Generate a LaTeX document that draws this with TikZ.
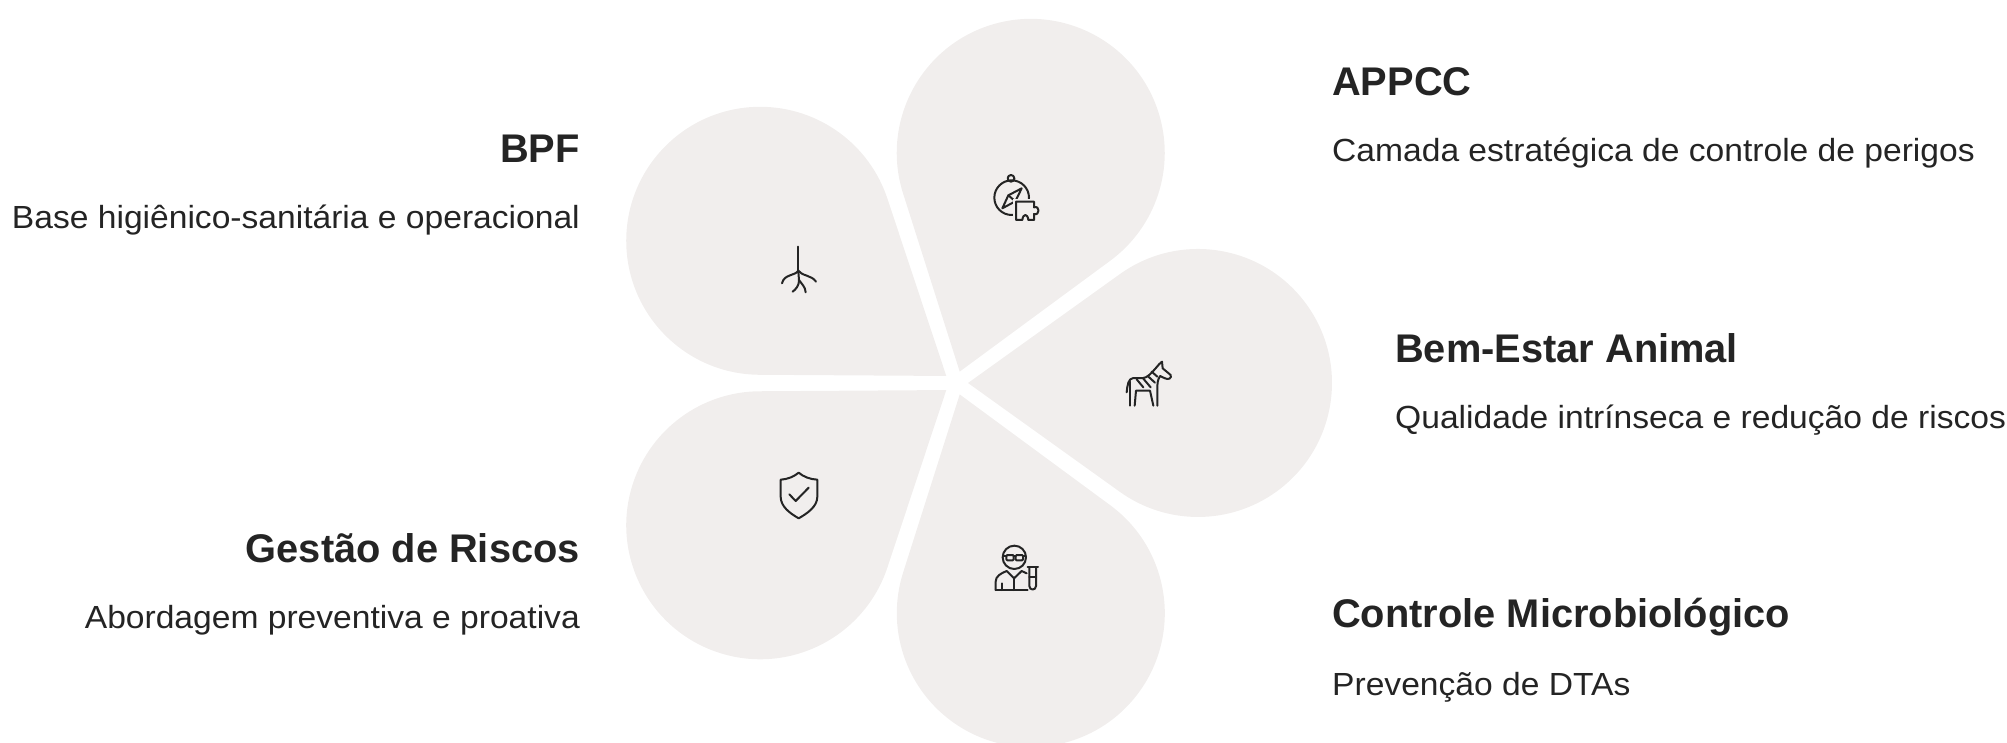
\documentclass[tikz,border=0pt]{standalone}
\usepackage{fontspec}
\setmainfont{Liberation Sans}
\newfontfamily\subfam{Liberation Sans}[FakeStretch=1.05]
\newfontfamily\headfam{Liberation Sans}[FakeStretch=0.995]
\definecolor{petalc}{HTML}{F1EEED}
\definecolor{inkc}{HTML}{242424}
\tikzset{
  headt/.style={inner sep=0pt,text=inkc,font=\headfam\fontsize{40}{46}\selectfont\bfseries},
  subt/.style={inner sep=0pt,text=inkc,font=\subfam\fontsize{32}{38}\selectfont},
  iconl/.style={draw=inkc,line width=2,line cap=round,line join=round,fill=none},
  iconscope/.style={x=1pt,y=-1pt,scale=0.3333}
}
\newcommand\petalat[1]{\begin{scope}[shift={(956,383)},rotate=#1,x=1pt,y=1pt]
  \fill[petalc] (12,0) -- (163.6,108.7) arc[start angle=125.8,end angle=-125.8,radius=134] -- cycle;
\end{scope}}
\begin{document}
\begin{tikzpicture}[x=1pt,y=-1pt]
\useasboundingbox (0,0) rectangle (2007,742);
\clip (0,0) rectangle (2007,742);
\petalat{0}\petalat{72}\petalat{144}\petalat{216}\petalat{288}
% compass
\begin{scope}[shift={(960,150)},iconscope]
 \draw[iconl] (155,143) circle[radius=52];
 \draw[iconl] (153,85) circle[radius=10];
 \draw[iconl] (127,175) -- (145,136) -- (185,115) -- (166,154) -- cycle;
 \draw[iconl] (145,136) -- (166,154);
 \fill[petalc] (158,146) rectangle (242,222);
 \draw[iconl] (168,155) -- (222,155) -- (222,172) .. controls (240,165) and (240,198) .. (222,192) -- (222,210) -- (205,210) .. controls (203,190) and (189,190) .. (187,210) -- (168,210) -- cycle;
\end{scope}
% root
\begin{scope}[shift={(750,230)},iconscope]
 \draw[iconl] (145,50) -- (145,125);
 \draw[iconl] (145,122) .. controls (135,138) and (102,132) .. (96,160);
 \draw[iconl] (145,122) .. controls (155,138) and (185,135) .. (198,155);
 \draw[iconl] (145,125) -- (147,150) .. controls (148,165) and (138,178) .. (128,185);
 \draw[iconl] (147,150) .. controls (155,162) and (166,170) .. (167,187);
\end{scope}
% zebra
\begin{scope}[shift={(1100,340)},iconscope]
 \draw[iconl] (80,157) .. controls (82,135) and (85,115) .. (100,114) -- (130,114) .. controls (142,112) and (150,105) .. (178,72) -- (186,65) -- (188,85) -- (212,105) .. controls (216,115) and (205,120) .. (195,115) -- (180,108) .. controls (172,120) and (172,135) .. (172,145) -- (172,197);
 \draw[iconl] (90,125) -- (90,197);
 \draw[iconl] (104,197) -- (108,152) -- (150,152) -- (160,197);
 \draw[iconl] (110,118) -- (130,142);
 \draw[iconl] (130,116) -- (152,142);
 \draw[iconl] (143,108) -- (165,128);
 \draw[iconl] (155,95) -- (172,110);
\end{scope}
% shield
\begin{scope}[shift={(750,455)},iconscope]
 \draw[iconl] (146,53) .. controls (132,65) and (112,73) .. (92,74) -- (92,125) .. controls (92,155) and (120,175) .. (146,190) .. controls (172,175) and (202,155) .. (202,125) -- (202,74) .. controls (180,73) and (160,65) .. (146,53) -- cycle;
 \draw[iconl] (118,118) -- (137,138) -- (176,98);
\end{scope}
% scientist
\begin{scope}[shift={(965,530)},iconscope]
 \draw[iconl] (148,82) circle[radius=35];
 \draw[iconl,rounded corners=1] (124,75) rectangle (146,91);
 \draw[iconl,rounded corners=1] (152,75) rectangle (174,91);
 \draw[iconl] (114,77) -- (124,77);
 \draw[iconl] (146,77) -- (152,77);
 \draw[iconl] (174,77) -- (182,77);
 \draw[iconl] (92,180) -- (92,155) .. controls (92,138) and (108,130) .. (125,123) -- (147,145) -- (170,123) -- (185,130);
 \draw[iconl] (147,145) -- (147,180);
 \draw[iconl] (92,180) -- (188,180);
 \draw[iconl] (112,160) -- (112,180);
 \draw[iconl] (188,112) -- (219,112);
 \draw[iconl] (193,113) -- (193,168) .. controls (193,182) and (213,182) .. (213,168) -- (213,113);
 \draw[iconl] (193,140) -- (213,140);
\end{scope}
% text
\node[headt,anchor=base west] (t1) at (1332,95) {APPCC};
\node[subt,anchor=base west] (s1) at (1332,161) {Camada estratégica de controle de perigos};
\node[headt,anchor=base east] (t2) at (580,162) {BPF};
\node[subt,anchor=base east] (s2) at (580,228) {Base higiênico-sanitária e operacional};
\node[headt,anchor=base west] (t3) at (1395,362) {Bem-Estar Animal};
\node[subt,anchor=base west] (s3) at (1395,428) {Qualidade intrínseca e redução de riscos};
\node[headt,anchor=base east] (t4) at (580,562) {Gestão de Riscos};
\node[subt,anchor=base east] (s4) at (580,628) {Abordagem preventiva e proativa};
\node[headt,anchor=base west] (t5) at (1332,627) {Controle Microbiológico};
\node[subt,anchor=base west] (s5) at (1332,695) {Prevenção de DTAs};
\end{tikzpicture}
\end{document}
